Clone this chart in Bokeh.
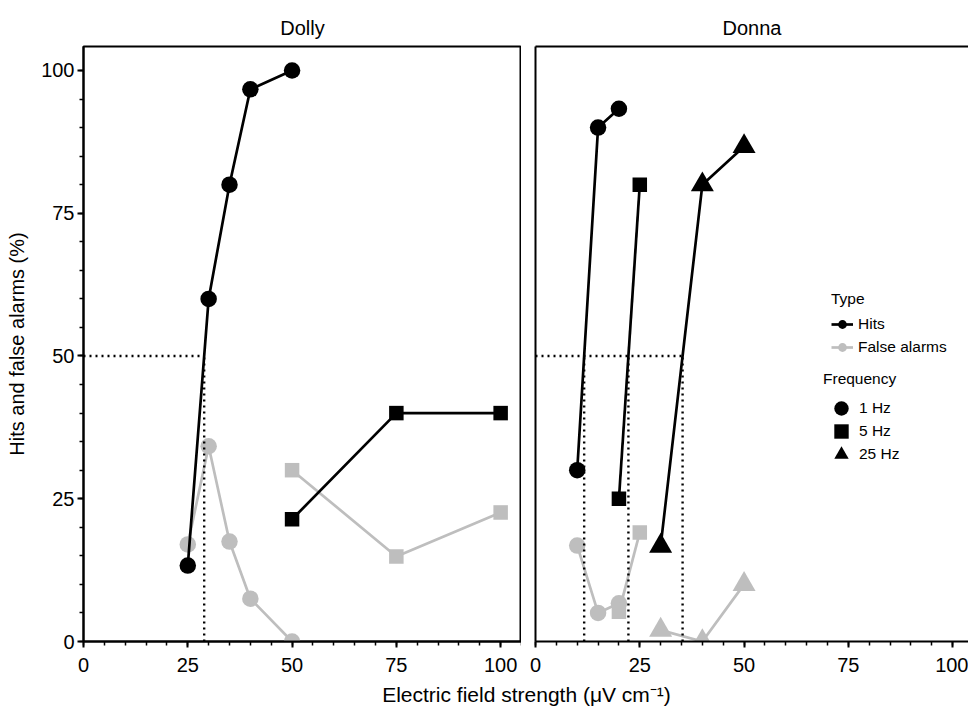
from bokeh.plotting import figure
from bokeh.models import FixedTicker, LinearAxis, Legend, LegendItem, Range1d, Label
from bokeh.layouts import column, row
from bokeh.embed import file_html
from bokeh.resources import INLINE

FONT = "Liberation Sans"
BLACK = "#000000"
GREY = "#BEBEBE"

# ---------------- data ----------------
# Dolly
dolly_1hz_x = [25, 30, 35, 40, 50]
dolly_1hz_hits = [13.3, 60.0, 80.0, 96.7, 100.0]
dolly_1hz_fa = [17.0, 34.2, 17.5, 7.5, 0.0]
dolly_5hz_x = [50, 75, 100]
dolly_5hz_hits = [21.4, 40.0, 40.0]
dolly_5hz_fa = [30.0, 14.9, 22.6]

# Donna
donna_1hz_x = [10, 15, 20]
donna_1hz_hits = [30.0, 90.0, 93.3]
donna_1hz_fa = [16.8, 5.0, 6.7]
donna_5hz_x = [20, 25]
donna_5hz_hits = [25.0, 80.0]
donna_5hz_fa = [5.2, 19.1]
donna_25hz_x = [30, 40, 50]
donna_25hz_hits = [16.7, 80.0, 86.7]
donna_25hz_fa = [2.0, 0.0, 10.0]

x_ticks = [0, 25, 50, 75, 100]
y_ticks = [0, 25, 50, 75, 100]
criterion = 50

x_title = "Electric field strength (\u03bcV cm\u207b\u00b9)"
y_title = "Hits and false alarms (%)"
type_labels = ["Hits", "False alarms"]
freq_labels = ["1 Hz", "5 Hz", "25 Hz"]

# ---------------- layout constants ----------------
TICK_FS = "20px"
LAB_FS = "20px"
XLAB_FS = "21px"
LEG_FS = "15.5px"
TOTAL_W = 968
TOTAL_H = 710
FRAME_TOP = 46
FRAME_BOTTOM = 641
BOTTOM_BORDER = 42
PH = FRAME_BOTTOM + BOTTOM_BORDER
LEFT_BORDER = 83
FRAME1_W = 438
GAP = 14
X_END1 = 105
PX_PER_UNIT = FRAME1_W / X_END1
P1_W = LEFT_BORDER + FRAME1_W
P2_W = TOTAL_W - P1_W
X_END2 = (P2_W - GAP) / PX_PER_UNIT
Y_END = 104.2

MINOR = list(range(0, 106, 5))


def crossing(xs, ys, level):
    for i in range(len(xs) - 1):
        if ys[i] < level <= ys[i + 1]:
            return xs[i] + (level - ys[i]) * (xs[i + 1] - xs[i]) / (ys[i + 1] - ys[i])
    return None


def style_axis(ax, ticks):
    ax.ticker = FixedTicker(ticks=ticks, minor_ticks=MINOR)
    ax.axis_line_width = 2
    ax.axis_line_color = BLACK
    ax.major_tick_line_width = 2
    ax.minor_tick_line_width = 1.5
    ax.major_tick_line_color = BLACK
    ax.minor_tick_line_color = BLACK
    ax.major_tick_out = 6
    ax.major_tick_in = 0
    ax.minor_tick_out = 4
    ax.minor_tick_in = 0
    ax.major_label_text_font = FONT
    ax.major_label_text_font_size = TICK_FS
    ax.major_label_text_color = BLACK


def make_panel(name, width, border_left, x_end):
    p = figure(width=width, height=PH, x_range=Range1d(0, x_end), y_range=Range1d(0, Y_END),
               output_backend="svg", toolbar_location=None, title=name,
               min_border_left=border_left, min_border_right=0, min_border_top=FRAME_TOP,
               min_border_bottom=BOTTOM_BORDER, background_fill_color="white",
               border_fill_color="white")
    p.title.align = "center"
    p.title.text_font = FONT
    p.title.text_font_size = LAB_FS
    p.title.text_font_style = "normal"
    p.title.text_color = BLACK
    p.title.standoff = 16
    p.xgrid.grid_line_color = None
    p.ygrid.grid_line_color = None
    style_axis(p.xaxis[0], x_ticks)
    p.xaxis.major_label_standoff = 10
    return p


def draw_series(p, xs, hits, fa, marker, size):
    rl_fa = p.line(xs, fa, line_color=GREY, line_width=2.7)
    rp_fa = p.scatter(xs, fa, marker=marker, size=size, fill_color=GREY, line_color=None)
    rl_h = p.line(xs, hits, line_color=BLACK, line_width=2.7)
    rp_h = p.scatter(xs, hits, marker=marker, size=size, fill_color=BLACK, line_color=None)
    return rl_fa, rp_fa, rl_h, rp_h


def draw_criterion(p, series):
    thr = [c for c in (crossing(xs, ys, criterion) for xs, ys in series) if c is not None]
    p.segment(x0=[0], y0=[criterion], x1=[max(thr)], y1=[criterion], line_color=BLACK,
              line_width=2.4, line_dash="2 4")
    p.segment(x0=thr, y0=[0] * len(thr), x1=thr, y1=[criterion] * len(thr), line_color=BLACK,
              line_width=2.4, line_dash="2 4")


SIZES = {"circle": 16.5, "square": 14.5, "triangle": 23}

# ---------------- Dolly ----------------
p1 = make_panel("Dolly", P1_W, LEFT_BORDER, X_END1)
p1.outline_line_color = BLACK
p1.outline_line_width = 2
style_axis(p1.yaxis[0], y_ticks)
p1.yaxis.major_label_standoff = 3
p1.yaxis.axis_label = y_title
p1.yaxis.axis_label_text_font = FONT
p1.yaxis.axis_label_text_font_size = LAB_FS
p1.yaxis.axis_label_text_font_style = "normal"
p1.yaxis.axis_label_text_color = BLACK
p1.yaxis.axis_label_standoff = 10

draw_series(p1, dolly_1hz_x, dolly_1hz_hits, dolly_1hz_fa, "circle", SIZES["circle"])
draw_series(p1, dolly_5hz_x, dolly_5hz_hits, dolly_5hz_fa, "square", SIZES["square"])
draw_criterion(p1, [(dolly_1hz_x, dolly_1hz_hits), (dolly_5hz_x, dolly_5hz_hits)])

# ---------------- Donna ----------------
p2 = make_panel("Donna", P2_W, GAP, X_END2)
p2.outline_line_color = None
p2.yaxis.ticker = FixedTicker(ticks=[])
p2.yaxis.axis_line_width = 2
p2.yaxis.axis_line_color = BLACK
p2.yaxis.major_tick_out = 0
p2.yaxis.minor_tick_out = 0
p2.yaxis.major_label_standoff = 0
top = LinearAxis(ticker=FixedTicker(ticks=[]), axis_line_width=2, axis_line_color=BLACK,
                 major_tick_out=0, major_tick_in=0, minor_tick_out=0, minor_tick_in=0,
                 major_label_standoff=0)
p2.add_layout(top, "above")

c_fa_l, c_fa_p, c_h_l, c_h_p = draw_series(p2, donna_1hz_x, donna_1hz_hits, donna_1hz_fa,
                                           "circle", SIZES["circle"])
s_fa_l, s_fa_p, s_h_l, s_h_p = draw_series(p2, donna_5hz_x, donna_5hz_hits, donna_5hz_fa,
                                           "square", SIZES["square"])
t_fa_l, t_fa_p, t_h_l, t_h_p = draw_series(p2, donna_25hz_x, donna_25hz_hits, donna_25hz_fa,
                                           "triangle", SIZES["triangle"])
draw_criterion(p2, [(donna_1hz_x, donna_1hz_hits), (donna_5hz_x, donna_5hz_hits),
                    (donna_25hz_x, donna_25hz_hits)])


def style_legend(leg):
    leg.border_line_color = None
    leg.background_fill_alpha = 0
    leg.padding = 0
    leg.margin = 0
    leg.label_text_font = FONT
    leg.label_text_font_size = LEG_FS
    leg.label_text_color = BLACK
    leg.title_text_font = FONT
    leg.title_text_font_size = LEG_FS
    leg.title_text_font_style = "normal"
    leg.title_text_color = BLACK
    leg.label_height = 18


leg_type = Legend(items=[LegendItem(label=type_labels[0], renderers=[c_h_l, c_h_p]),
                         LegendItem(label=type_labels[1], renderers=[c_fa_l, c_fa_p])],
                  title="Type", location=(296, 283), glyph_width=22, glyph_height=22,
                  spacing=1, label_standoff=5, title_standoff=5)
style_legend(leg_type)
p2.add_layout(leg_type, "center")

# one legend per frequency entry so that large keys can sit close together
ROW_PITCH = 23
for i, (lab, r) in enumerate(zip(freq_labels, [c_h_p, s_h_p, t_h_p])):
    leg = Legend(items=[LegendItem(label=lab, renderers=[r])],
                 title="Frequency" if i == 0 else None,
                 location=(288, 213 - ROW_PITCH * i), glyph_width=36, glyph_height=40,
                 spacing=0, label_standoff=0, title_standoff=0)
    style_legend(leg)
    p2.add_layout(leg, "center")

# ---------------- shared x title ----------------
P3_H = TOTAL_H - PH
p3 = figure(width=TOTAL_W, height=P3_H, x_range=Range1d(0, TOTAL_W), y_range=Range1d(0, P3_H),
            output_backend="svg", toolbar_location=None, min_border=0,
            outline_line_color=None, x_axis_type=None, y_axis_type=None)
p3.xgrid.grid_line_color = None
p3.ygrid.grid_line_color = None
p3.add_layout(Label(x=526, y=TOTAL_H - 694, text=x_title, text_align="center",
                    text_baseline="middle", text_font=FONT, text_font_size=XLAB_FS,
                    text_color=BLACK))

layout = column(row(p1, p2), p3)
open("out.html", "w").write(file_html(layout, INLINE))
